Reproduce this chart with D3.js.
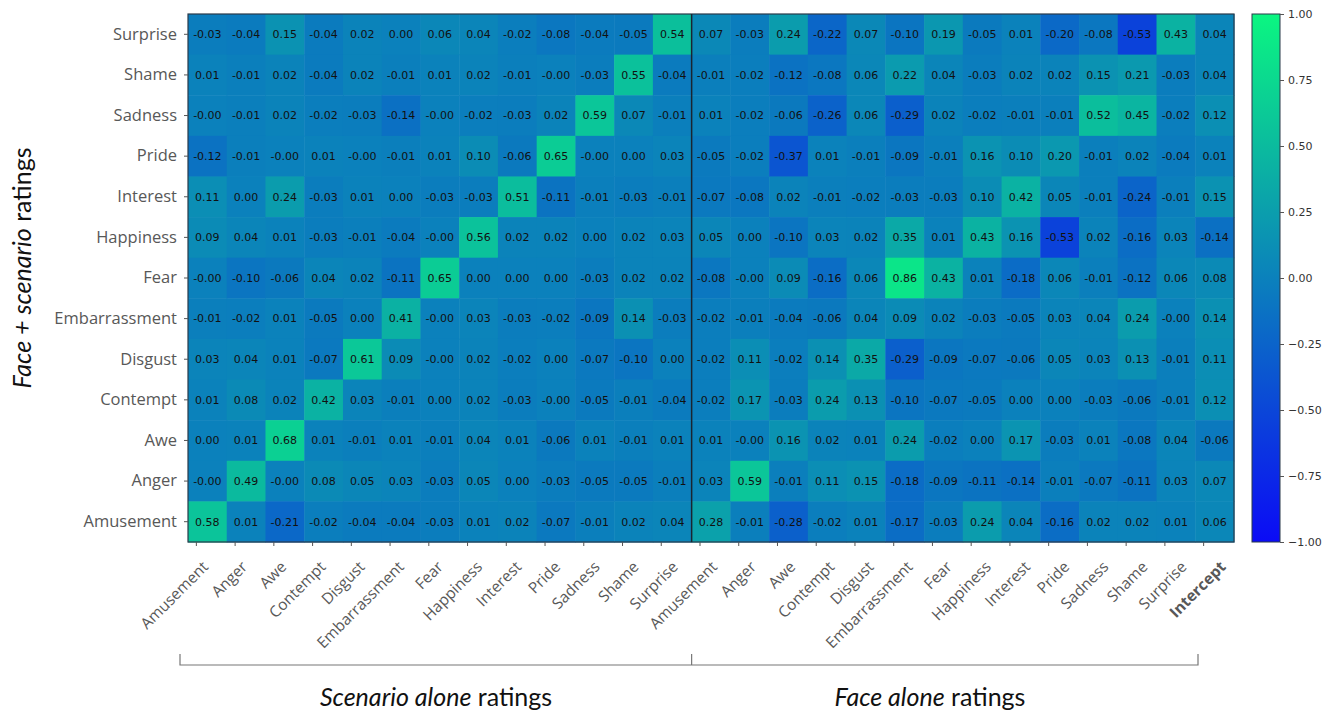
<!DOCTYPE html>
<html>
<head>
<meta charset="utf-8">
<script src="https://cdn.jsdelivr.net/npm/d3@7"></script>
<style>
  body { margin: 0; background: #fff; }
  .cell-text { font-family: "DejaVu Sans", sans-serif; font-size: 11px; fill: #111; }
  .xax text, .yax text { font-family: "Open Sans", sans-serif; fill: #585858; }
  .cax text { font-family: "DejaVu Sans", sans-serif; font-size: 11px; fill: #333; }
  .title { font-family: Lato, "Open Sans", sans-serif; fill: #111; }
</style>
</head>
<body>
<div id="chart"></div>
<script>
// row labels, top to bottom
var rowLabels = ["Surprise", "Shame", "Sadness", "Pride", "Interest", "Happiness", "Fear",
  "Embarrassment", "Disgust", "Contempt", "Awe", "Anger", "Amusement"];

var emotions = ["Amusement", "Anger", "Awe", "Contempt", "Disgust", "Embarrassment", "Fear",
  "Happiness", "Interest", "Pride", "Sadness", "Shame", "Surprise"];
// scenario block, face block, intercept
var colLabels = emotions.map(function(e) { return "s_" + e; })
  .concat(emotions.map(function(e) { return "f_" + e; }))
  .concat(["Intercept"]);

// each row: 13 scenario-alone weights, 13 face-alone weights, intercept
var surprise      = [-0.03,-0.04,0.15,-0.04,0.02,0.00,0.06,0.04,-0.02,-0.08,-0.04,-0.05,0.54, 0.07,-0.03,0.24,-0.22,0.07,-0.10,0.19,-0.05,0.01,-0.20,-0.08,-0.53,0.43, 0.04];
var shame         = [0.01,-0.01,0.02,-0.04,0.02,-0.01,0.01,0.02,-0.01,-0.00,-0.03,0.55,-0.04, -0.01,-0.02,-0.12,-0.08,0.06,0.22,0.04,-0.03,0.02,0.02,0.15,0.21,-0.03, 0.04];
var sadness       = [-0.00,-0.01,0.02,-0.02,-0.03,-0.14,-0.00,-0.02,-0.03,0.02,0.59,0.07,-0.01, 0.01,-0.02,-0.06,-0.26,0.06,-0.29,0.02,-0.02,-0.01,-0.01,0.52,0.45,-0.02, 0.12];
var pride         = [-0.12,-0.01,-0.00,0.01,-0.00,-0.01,0.01,0.10,-0.06,0.65,-0.00,0.00,0.03, -0.05,-0.02,-0.37,0.01,-0.01,-0.09,-0.01,0.16,0.10,0.20,-0.01,0.02,-0.04, 0.01];
var interest      = [0.11,0.00,0.24,-0.03,0.01,0.00,-0.03,-0.03,0.51,-0.11,-0.01,-0.03,-0.01, -0.07,-0.08,0.02,-0.01,-0.02,-0.03,-0.03,0.10,0.42,0.05,-0.01,-0.24,-0.01, 0.15];
var happiness     = [0.09,0.04,0.01,-0.03,-0.01,-0.04,-0.00,0.56,0.02,0.02,0.00,0.02,0.03, 0.05,0.00,-0.10,0.03,0.02,0.35,0.01,0.43,0.16,-0.53,0.02,-0.16,0.03, -0.14];
var fear          = [-0.00,-0.10,-0.06,0.04,0.02,-0.11,0.65,0.00,0.00,0.00,-0.03,0.02,0.02, -0.08,-0.00,0.09,-0.16,0.06,0.86,0.43,0.01,-0.18,0.06,-0.01,-0.12,0.06, 0.08];
var embarrassment = [-0.01,-0.02,0.01,-0.05,0.00,0.41,-0.00,0.03,-0.03,-0.02,-0.09,0.14,-0.03, -0.02,-0.01,-0.04,-0.06,0.04,0.09,0.02,-0.03,-0.05,0.03,0.04,0.24,-0.00, 0.14];
var disgust       = [0.03,0.04,0.01,-0.07,0.61,0.09,-0.00,0.02,-0.02,0.00,-0.07,-0.10,0.00, -0.02,0.11,-0.02,0.14,0.35,-0.29,-0.09,-0.07,-0.06,0.05,0.03,0.13,-0.01, 0.11];
var contempt      = [0.01,0.08,0.02,0.42,0.03,-0.01,0.00,0.02,-0.03,-0.00,-0.05,-0.01,-0.04, -0.02,0.17,-0.03,0.24,0.13,-0.10,-0.07,-0.05,0.00,0.00,-0.03,-0.06,-0.01, 0.12];
var awe           = [0.00,0.01,0.68,0.01,-0.01,0.01,-0.01,0.04,0.01,-0.06,0.01,-0.01,0.01, 0.01,-0.00,0.16,0.02,0.01,0.24,-0.02,0.00,0.17,-0.03,0.01,-0.08,0.04, -0.06];
var anger         = [-0.00,0.49,-0.00,0.08,0.05,0.03,-0.03,0.05,0.00,-0.03,-0.05,-0.05,-0.01, 0.03,0.59,-0.01,0.11,0.15,-0.18,-0.09,-0.11,-0.14,-0.01,-0.07,-0.11,0.03, 0.07];
var amusement     = [0.58,0.01,-0.21,-0.02,-0.04,-0.04,-0.03,0.01,0.02,-0.07,-0.01,0.02,0.04, 0.28,-0.01,-0.28,-0.02,0.01,-0.17,-0.03,0.24,0.04,-0.16,0.02,0.02,0.01, 0.06];

var rows = [surprise, shame, sadness, pride, interest, happiness, fear,
  embarrassment, disgust, contempt, awe, anger, amusement];

var cbTicks = [1.00, 0.75, 0.50, 0.25, 0.00, -0.25, -0.50, -0.75, -1.00];

var W = 1331, H = 713;
var margin = { top: 14, left: 188 },
	width = 1046,
	height = 528;

var cells = [];
rows.forEach(function(r, i) {
	r.forEach(function(v, j) {
		cells.push({ row: rowLabels[i], col: colLabels[j], v: v });
	});
});

// winter colormap, slightly softened like the scan
var winter = d3.scaleLinear().domain([-1, 1])
	.range(["#0000ff", "#00ff80"]).interpolate(d3.interpolateRgb);
function color(v) { return d3.interpolateRgb(winter(v), "#8a8a8a")(0.08); }

function fmt(v) {
	var neg = v < 0 || Object.is(v, -0);
	return (neg ? "-" : "") + Math.abs(v).toFixed(2);
}

var x = d3.scaleBand().domain(colLabels).range([0, width]);
var y = d3.scaleBand().domain(rowLabels).range([0, height]);

var svg = d3.select("#chart").append("svg")
	.attr("width", W)
	.attr("height", H);

var g = svg.append("g").attr("transform", "translate(" + margin.left + "," + margin.top + ")");

g.selectAll("rect.cell").data(cells).enter().append("rect")
	.attr("class", "cell")
	.attr("x", function(d) { return x(d.col); })
	.attr("y", function(d) { return y(d.row); })
	.attr("width", x.bandwidth() + 0.5)
	.attr("height", y.bandwidth() + 0.5)
	.attr("fill", function(d) { return color(d.v); });

g.selectAll("text.cell-text").data(cells).enter().append("text")
	.attr("class", "cell-text")
	.attr("x", function(d) { return x(d.col) + x.bandwidth() / 2; })
	.attr("y", function(d) { return y(d.row) + y.bandwidth() / 2; })
	.attr("text-anchor", "middle")
	.attr("dy", "0.35em")
	.text(function(d) { return fmt(d.v); });

// frame + divider between the two blocks
g.append("rect").attr("width", width).attr("height", height)
	.attr("fill", "none").attr("stroke", "#2a3a4a").attr("stroke-width", 1.2);
g.append("line")
	.attr("x1", x("f_Amusement")).attr("x2", x("f_Amusement"))
	.attr("y1", 0).attr("y2", height)
	.attr("stroke", "#1a2530").attr("stroke-width", 1.5);

// axes
var yax = g.append("g").attr("class", "yax")
	.call(d3.axisLeft(y).tickSize(4).tickPadding(7));
yax.select(".domain").remove();
yax.selectAll("line").attr("stroke", "#555");
yax.selectAll("text").style("font-size", "16.5px");

// x ticks in the figure sit a little left of the cell centres,
// and the rotated labels drift slightly right along the axis
var xax = g.append("g").attr("class", "xax")
	.attr("transform", "translate(-11," + height + ")")
	.call(d3.axisBottom(x).tickSize(4)
		.tickFormat(function(d) { return d.replace(/^[sf]_/, ""); }));
xax.select(".domain").remove();
xax.selectAll("line").attr("stroke", "#555");
xax.selectAll("text")
	.style("font-size", "15.5px")
	.attr("text-anchor", "end")
	.attr("y", 0)
	.attr("dy", "0.35em")
	.attr("transform", function(d, i) { return "translate(" + (9 + i * 0.4) + ",22) rotate(-45)"; })
	.style("font-weight", function(d) { return d === "Intercept" ? "bold" : null; });

// colorbar
var cbX = 1252, cbW = 28;
var cy = d3.scaleLinear().domain([-1, 1]).range([margin.top + height, margin.top]);
var defs = svg.append("defs");
var grad = defs.append("linearGradient").attr("id", "cbgrad")
	.attr("x1", 0).attr("y1", 1).attr("x2", 0).attr("y2", 0);
d3.range(0, 1.01, 0.25).forEach(function(t) {
	grad.append("stop").attr("offset", (t * 100) + "%").attr("stop-color", color(-1 + 2 * t));
});
svg.append("rect")
	.attr("x", cbX).attr("y", margin.top)
	.attr("width", cbW).attr("height", height)
	.attr("fill", "url(#cbgrad)")
	.attr("stroke", "#2a3a4a").attr("stroke-width", 1);
var cax = svg.append("g").attr("class", "cax")
	.attr("transform", "translate(" + (cbX + cbW) + ",0)")
	.call(d3.axisRight(cy).tickValues(cbTicks).tickSize(4).tickPadding(4)
		.tickFormat(function(v) { return (v < 0 ? "\u2212" : "") + Math.abs(v).toFixed(2); }));
cax.select(".domain").remove();
cax.selectAll("line").attr("stroke", "#555");

// brackets under the x labels
var bY = 665, bTop = 654;
var bL = 180, bM = margin.left + x("f_Amusement"), bR = 1198;
svg.append("path")
	.attr("d", "M" + bL + "," + bTop + "V" + bY + "H" + bR + "V" + bTop +
		"M" + bM + "," + bTop + "V" + bY)
	.attr("fill", "none").attr("stroke", "#777").attr("stroke-width", 1.2);

function title(sel, italic, rest) {
	sel.append("tspan").style("font-style", "italic").text(italic);
	sel.append("tspan").text(rest);
}

svg.append("text").attr("class", "title")
	.attr("x", 436).attr("y", 706).attr("text-anchor", "middle")
	.style("font-size", "25px")
	.call(title, "Scenario alone", " ratings");
svg.append("text").attr("class", "title")
	.attr("x", 930).attr("y", 706).attr("text-anchor", "middle")
	.style("font-size", "25px")
	.call(title, "Face alone", " ratings");
svg.append("text").attr("class", "title")
	.attr("transform", "translate(31,268) rotate(-90)")
	.attr("text-anchor", "middle")
	.style("font-size", "25px")
	.call(title, "Face + scenario", " ratings");
</script>
</body>
</html>
